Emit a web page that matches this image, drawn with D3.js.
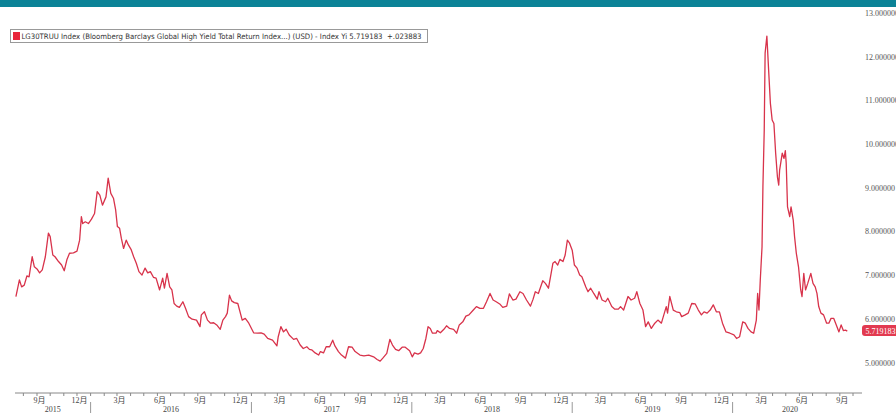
<!DOCTYPE html>
<html>
<head>
<meta charset="utf-8">
<script src="https://cdn.jsdelivr.net/npm/d3@7"></script>
<style>
body { margin: 0; background: #fff; }
svg { display: block; }
</style>
</head>
<body>
<div id="chart"></div>
<script>
// Yield of the index
const dates = [
  "2015-07-15","2015-07-23","2015-07-28","2015-08-03","2015-08-09","2015-08-14","2015-08-21","2015-08-26",
  "2015-09-01","2015-09-07","2015-09-13","2015-09-20","2015-09-27","2015-10-01","2015-10-07","2015-10-12",
  "2015-10-20","2015-10-27","2015-11-02","2015-11-08","2015-11-14","2015-11-23","2015-12-01","2015-12-07",
  "2015-12-11","2015-12-14","2015-12-20","2015-12-27",
  "2016-01-03","2016-01-10","2016-01-16","2016-01-22","2016-01-28","2016-02-05","2016-02-10","2016-02-16",
  "2016-02-22","2016-02-27","2016-03-02","2016-03-07","2016-03-11","2016-03-16","2016-03-22","2016-03-27",
  "2016-04-02","2016-04-08","2016-04-14","2016-04-20","2016-04-27","2016-05-04","2016-05-10","2016-05-16",
  "2016-05-23","2016-05-29","2016-06-06","2016-06-13","2016-06-17","2016-06-23","2016-06-29","2016-07-04",
  "2016-07-09","2016-07-15","2016-07-21","2016-07-29","2016-08-04","2016-08-11","2016-08-19","2016-08-29",
  "2016-09-06","2016-09-09","2016-09-16","2016-09-23","2016-09-30","2016-10-07","2016-10-14","2016-10-22",
  "2016-10-28","2016-11-03","2016-11-07","2016-11-12","2016-11-17","2016-11-23","2016-12-01","2016-12-11",
  "2016-12-18","2016-12-26",
  "2017-01-06","2017-01-15","2017-01-23","2017-01-30","2017-02-07","2017-02-18","2017-02-28","2017-03-03",
  "2017-03-09","2017-03-15","2017-03-21","2017-03-28","2017-04-07","2017-04-14","2017-04-22","2017-04-29",
  "2017-05-07","2017-05-13","2017-05-18","2017-05-26","2017-06-03","2017-06-07","2017-06-14","2017-06-20",
  "2017-06-28","2017-07-05","2017-07-10","2017-07-18","2017-07-25","2017-08-03","2017-08-10","2017-08-18",
  "2017-08-25","2017-09-05","2017-09-14","2017-09-25","2017-10-06","2017-10-14","2017-10-21","2017-10-27",
  "2017-11-05","2017-11-12","2017-11-18","2017-11-25","2017-12-02","2017-12-10","2017-12-17","2017-12-27",
  "2018-01-02","2018-01-07","2018-01-15","2018-01-21","2018-01-27","2018-02-02","2018-02-07","2018-02-12",
  "2018-02-17","2018-02-25","2018-02-28","2018-03-07","2018-03-15","2018-03-21","2018-03-28","2018-04-06",
  "2018-04-13","2018-04-19","2018-04-27","2018-05-04","2018-05-11","2018-05-21","2018-05-28","2018-06-05",
  "2018-06-13","2018-06-20","2018-06-28","2018-07-05","2018-07-12","2018-07-20","2018-07-27","2018-08-05",
  "2018-08-11","2018-08-19","2018-08-26","2018-09-04","2018-09-11","2018-09-19","2018-09-28","2018-10-04",
  "2018-10-09","2018-10-16","2018-10-26","2018-11-01","2018-11-08","2018-11-14","2018-11-18","2018-11-23",
  "2018-11-29","2018-12-04","2018-12-11","2018-12-16","2018-12-21","2018-12-26",
  "2019-01-01","2019-01-06","2019-01-12","2019-01-18","2019-01-23","2019-02-01","2019-02-06","2019-02-12",
  "2019-02-19","2019-02-27","2019-03-03","2019-03-10","2019-03-18","2019-03-23","2019-04-01","2019-04-08",
  "2019-04-16","2019-04-21","2019-04-28","2019-05-08","2019-05-15","2019-05-23","2019-05-28","2019-06-04",
  "2019-06-11","2019-06-17","2019-06-23","2019-06-30","2019-07-08","2019-07-15","2019-07-23","2019-08-03",
  "2019-08-06","2019-08-11","2019-08-19","2019-08-26","2019-09-03","2019-09-07","2019-09-15","2019-09-22",
  "2019-09-30","2019-10-08","2019-10-15","2019-10-22","2019-10-28","2019-11-04","2019-11-11","2019-11-18",
  "2019-11-25","2019-12-02","2019-12-09","2019-12-17","2019-12-26",
  "2020-01-04","2020-01-10","2020-01-17","2020-01-24","2020-01-30","2020-02-05","2020-02-12","2020-02-18",
  "2020-02-24","2020-02-27","2020-03-01","2020-03-04","2020-03-08","2020-03-10","2020-03-13","2020-03-15",
  "2020-03-19","2020-03-23","2020-03-27","2020-03-29","2020-03-31","2020-04-04","2020-04-08","2020-04-12",
  "2020-04-15","2020-04-17","2020-04-23","2020-04-27","2020-04-30","2020-05-02","2020-05-05","2020-05-10",
  "2020-05-13","2020-05-18","2020-05-21","2020-05-25","2020-05-30","2020-06-04","2020-06-07","2020-06-11",
  "2020-06-15","2020-06-20","2020-06-27","2020-07-02","2020-07-07","2020-07-11","2020-07-15","2020-07-20",
  "2020-07-26","2020-08-02","2020-08-07","2020-08-12","2020-08-18","2020-08-24","2020-08-30","2020-09-04",
  "2020-09-09","2020-09-14","2020-09-18"
];
const yields = [
  6.51,6.89,6.73,6.77,6.98,6.96,7.42,7.19,
  7.14,7.05,7.12,7.42,7.96,7.88,7.46,7.42,
  7.31,7.23,7.10,7.35,7.50,7.51,7.55,7.80,
  8.34,8.18,8.22,8.18,
  8.28,8.41,8.91,8.83,8.60,8.79,9.22,8.87,
  8.76,8.49,8.11,8.07,7.84,7.61,7.80,7.69,
  7.59,7.42,7.27,7.08,7.00,7.16,7.05,7.08,
  6.95,6.93,6.66,6.93,6.70,7.04,6.73,6.66,
  6.35,6.29,6.26,6.39,6.24,6.05,5.99,5.97,
  5.82,6.09,6.16,5.97,5.90,5.91,5.86,5.76,
  5.97,6.05,6.13,6.54,6.41,6.37,6.35,5.97,
  6.01,5.90,
  5.68,5.67,5.68,5.65,5.55,5.51,5.38,5.59,
  5.82,5.70,5.76,5.63,5.53,5.55,5.40,5.32,
  5.36,5.30,5.29,5.22,5.17,5.25,5.22,5.36,
  5.36,5.51,5.38,5.25,5.17,5.10,5.36,5.35,
  5.25,5.17,5.15,5.17,5.13,5.07,5.03,5.10,
  5.21,5.53,5.40,5.30,5.27,5.35,5.35,5.27,
  5.13,5.22,5.19,5.22,5.32,5.55,5.82,5.78,
  5.67,5.67,5.73,5.68,5.76,5.84,5.78,5.76,
  5.67,5.86,5.93,6.06,6.09,6.20,6.28,6.24,
  6.24,6.39,6.58,6.43,6.39,6.34,6.26,6.29,
  6.57,6.43,6.45,6.62,6.58,6.43,6.29,6.45,
  6.62,6.58,6.87,6.81,6.70,7.04,7.27,7.31,
  7.23,7.36,7.31,7.46,7.80,7.73,
  7.57,7.23,7.16,7.00,6.96,6.73,6.62,6.70,
  6.58,6.45,6.62,6.43,6.39,6.47,6.28,6.22,
  6.22,6.28,6.20,6.51,6.43,6.47,6.62,6.35,
  6.20,5.82,5.93,5.78,5.90,5.97,5.90,6.28,
  6.13,6.51,6.20,6.16,6.14,6.05,6.09,6.13,
  6.35,6.34,6.20,6.09,6.16,6.13,6.20,6.32,
  6.16,6.16,5.90,5.70,5.67,
  5.63,5.55,5.59,5.93,5.90,5.78,5.70,5.67,
  5.97,6.58,6.20,6.89,7.65,9.02,10.32,12.08,
  12.47,11.69,10.93,10.74,10.55,10.47,9.79,9.25,
  9.06,9.40,9.79,9.67,9.85,9.56,8.56,8.34,
  8.56,8.26,7.88,7.50,7.19,6.66,6.51,7.04,
  6.66,6.81,7.04,6.81,6.73,6.58,6.28,6.13,
  6.09,5.90,5.90,6.01,6.01,5.86,5.70,5.86,
  5.73,5.74,5.719183
];

// Axis values and texts
const yTicks = [5, 6, 7, 8, 9, 10, 11, 12, 13];
const years = [2015, 2016, 2017, 2018, 2019, 2020];
const legendText = "LG30TRUU Index (Bloomberg Barclays Global High Yield Total Return Index...) (USD) - Index Yi 5.719183  +.023883";
const lastLabel = "5.719183";

const width = 896;
const height = 413;
const lineColor = "#d8334b";
const axisFont = "'Liberation Serif', 'Noto Sans CJK SC', serif";

const svg = d3.select("#chart").append("svg")
    .attr("width", width)
    .attr("height", height);

const parse = d3.timeParse("%Y-%m-%d");
const data = dates.map((d, i) => ({ date: parse(d), value: yields[i] }));

// Scales
const x = d3.scaleTime()
    .domain([parse("2015-07-01"), parse("2020-10-01")])
    .range([9.75, 853]);

const y = d3.scaleLinear()
    .domain([5, 13])
    .range([362.5, 12.9]);

const axisY = 393;
const axisLeft = 15;
const axisRight = 862;

// y labels on the right
svg.append("g")
    .selectAll("text")
    .data(yTicks)
    .join("text")
    .attr("x", 865)
    .attr("y", d => y(d) + 3)
    .style("font-family", axisFont)
    .style("font-size", "8px")
    .style("fill", "#555")
    .text(d => d.toFixed(6));

// The line
svg.append("path")
    .datum(data)
    .attr("fill", "none")
    .attr("stroke", lineColor)
    .attr("stroke-width", 1.3)
    .attr("stroke-linejoin", "round")
    .attr("d", d3.line().x(d => x(d.date)).y(d => y(d.value)));

// Last value box
const last = data[data.length - 1];
svg.append("rect")
    .attr("x", 862)
    .attr("y", y(last.value) - 6)
    .attr("width", 40)
    .attr("height", 11)
    .attr("rx", 3)
    .attr("fill", "#e23a50");
svg.append("text")
    .attr("x", 865.5)
    .attr("y", y(last.value) + 2.5)
    .style("font-family", axisFont)
    .style("font-size", "8px")
    .style("fill", "#fff")
    .text(lastLabel);

// x axis line
svg.append("line")
    .attr("x1", axisLeft).attr("x2", axisRight)
    .attr("y1", axisY).attr("y2", axisY)
    .attr("stroke", "#888")
    .attr("stroke-width", 1);

// month ticks
const months = d3.timeMonth.range(parse("2015-08-01"), parse("2020-11-01"))
    .filter(d => x(d) >= axisLeft && x(d) <= axisRight);
svg.append("g")
    .selectAll("line")
    .data(months)
    .join("line")
    .attr("x1", d => x(d)).attr("x2", d => x(d))
    .attr("y1", axisY).attr("y2", axisY + 3)
    .attr("stroke", "#888");

// month labels every quarter
svg.append("g")
    .selectAll("text")
    .data(months.filter(d => (d.getMonth() + 1) % 3 === 0))
    .join("text")
    .attr("x", d => x(d) + 2.5)
    .attr("y", axisY + 10)
    .attr("text-anchor", "middle")
    .style("font-family", axisFont)
    .style("font-size", "8px")
    .style("fill", "#444")
    .text(d => (d.getMonth() + 1) + "月");

// year separators
const yearStarts = years.slice(1).map(yr => new Date(yr, 0, 1));
svg.append("g")
    .selectAll("line")
    .data(yearStarts)
    .join("line")
    .attr("x1", d => x(d)).attr("x2", d => x(d))
    .attr("y1", axisY + 9).attr("y2", height)
    .attr("stroke", "#999");

// year labels centred in their span
svg.append("g")
    .selectAll("text")
    .data(years)
    .join("text")
    .attr("x", yr => {
        const a = Math.max(x(new Date(yr, 0, 1)), axisLeft);
        const b = Math.min(x(new Date(yr + 1, 0, 1)), x(last.date));
        return (a + b) / 2;
    })
    .attr("y", axisY + 19)
    .attr("text-anchor", "middle")
    .style("font-family", axisFont)
    .style("font-size", "8px")
    .style("fill", "#444")
    .text(yr => yr);

// Legend
const legend = svg.append("g");
legend.append("rect")
    .attr("x", 10.5).attr("y", 29.5)
    .attr("width", 417).attr("height", 13)
    .attr("fill", "#fff")
    .attr("stroke", "#999");
legend.append("rect")
    .attr("x", 13).attr("y", 32)
    .attr("width", 7).attr("height", 8)
    .attr("fill", "#e8263b");
legend.append("text")
    .attr("x", 21.5).attr("y", 39)
    .attr("textLength", 400)
    .attr("lengthAdjust", "spacingAndGlyphs")
    .style("font-family", "'DejaVu Sans', sans-serif")
    .style("font-size", "7.5px")
    .style("fill", "#333")
    .style("white-space", "pre")
    .text(legendText);

// Teal band at the top
svg.append("rect")
    .attr("x", 0).attr("y", 0)
    .attr("width", width).attr("height", 7)
    .attr("fill", "#0b8397");
</script>
</body>
</html>
